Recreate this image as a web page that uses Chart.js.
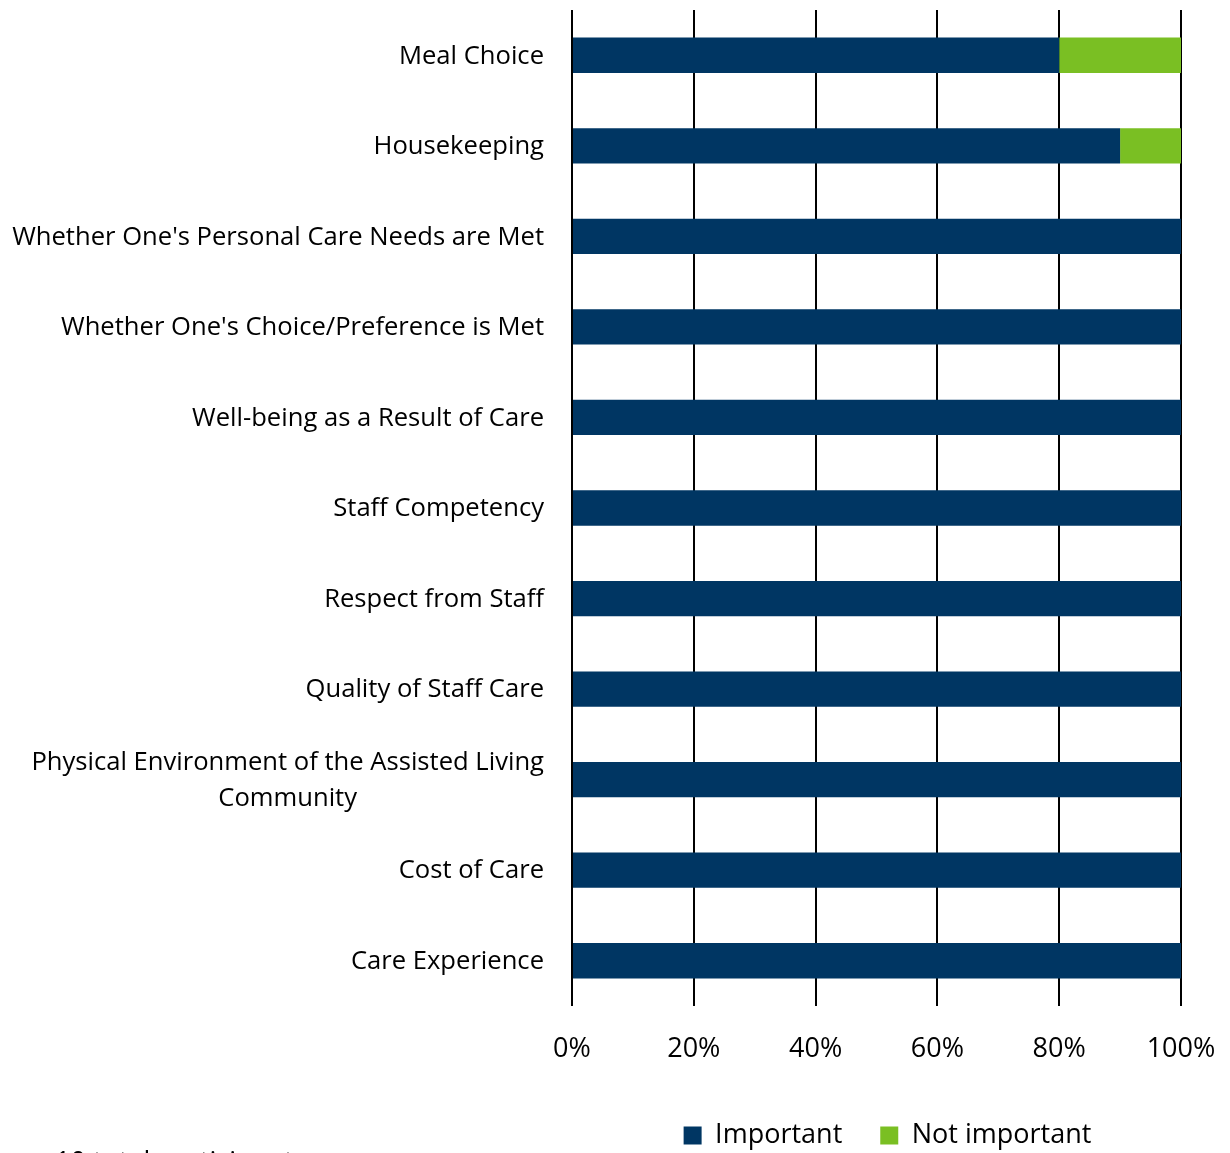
<!DOCTYPE html>
<html><head><meta charset="utf-8">
<script src="https://cdn.jsdelivr.net/npm/chart.js@4"></script>
<style>html,body{margin:0;padding:0;background:#fff}#wrap{width:1230px;height:1153px;overflow:hidden}</style>
</head><body><div id="wrap"><canvas id="c" width="1230" height="1153"></canvas></div>
<script>
const categories = [
  "Meal Choice",
  "Housekeeping",
  "Whether One's Personal Care Needs are Met",
  "Whether One's Choice/Preference is Met",
  "Well-being as a Result of Care",
  "Staff Competency",
  "Respect from Staff",
  "Quality of Staff Care",
  ["Physical Environment of the Assisted Living", "Community"],
  "Cost of Care",
  "Care Experience"
];
const important = [80, 90, 100, 100, 100, 100, 100, 100, 100, 100, 100];
const notImportant = [20, 10, 0, 0, 0, 0, 0, 0, 0, 0, 0];
const xTicks = [0, 20, 40, 60, 80, 100];
const footnote = "10 total participants";

const FONT = "'Open Sans', sans-serif";
const FS = 25.6;

const yLabelPlugin = {
  id: 'yLabels',
  afterLayout(chart) {
    if (chart.legend) { chart.legend.left += 15; chart.legend.right += 15; }
  },
  afterDraw(chart) {
    const ctx = chart.ctx;
    const y = chart.scales.y;
    const right = chart.chartArea.left - 28;
    ctx.save();
    ctx.font = FS + "px " + FONT;
    ctx.fillStyle = '#000';
    ctx.textBaseline = 'middle';
    categories.forEach((lab, i) => {
      const cy = y.getPixelForValue(i) + 1;
      if (Array.isArray(lab)) {
        const w = Math.max(...lab.map(l => ctx.measureText(l).width));
        const cx = right - w / 2;
        const lh = 36;
        ctx.textAlign = 'center';
        lab.forEach((l, k) => {
          ctx.fillText(l, cx, cy + (k - (lab.length - 1) / 2) * lh);
        });
      } else {
        ctx.textAlign = 'right';
        ctx.fillText(lab, right, cy);
      }
    });
    ctx.font = "27px " + FONT;
    ctx.textAlign = 'left';
    ctx.textBaseline = 'top';
    ctx.fillText(footnote, 55, 1150);
    ctx.restore();
  }
};

new Chart(document.getElementById('c'), {
  type: 'bar',
  data: {
    labels: categories,
    datasets: [
      { label: 'Important', data: important, backgroundColor: '#003663', borderWidth: 0,
        barPercentage: 0.39, categoryPercentage: 1 },
      { label: 'Not important', data: notImportant, backgroundColor: '#7ABF23', borderWidth: 0,
        barPercentage: 0.39, categoryPercentage: 1 }
    ]
  },
  options: {
    indexAxis: 'y',
    responsive: false,
    animation: false,
    layout: { padding: { left: 564, right: 49, top: 10, bottom: -6 } },
    scales: {
      x: {
        stacked: true, min: 0, max: 100,
        afterBuildTicks(scale) { scale.ticks = xTicks.map(v => ({ value: v })); },
        afterFit(scale) { scale.height = 78; scale.paddingLeft = 0; scale.paddingRight = 0; },
        ticks: { callback: v => v + '%', font: { family: FONT, size: 27 }, color: '#000', padding: 27, maxRotation: 0 },
        grid: { color: '#000', lineWidth: 2, drawTicks: false },
        border: { display: false }
      },
      y: {
        stacked: true,
        ticks: { display: false },
        grid: { display: false },
        border: { display: false }
      }
    },
    plugins: {
      legend: {
        position: 'bottom',
        labels: { font: { family: FONT, size: 27 }, color: '#000', boxWidth: 18, boxHeight: 18, padding: 38 }
      },
      tooltip: { enabled: false }
    }
  },
  plugins: [yLabelPlugin]
});
</script></body></html>
